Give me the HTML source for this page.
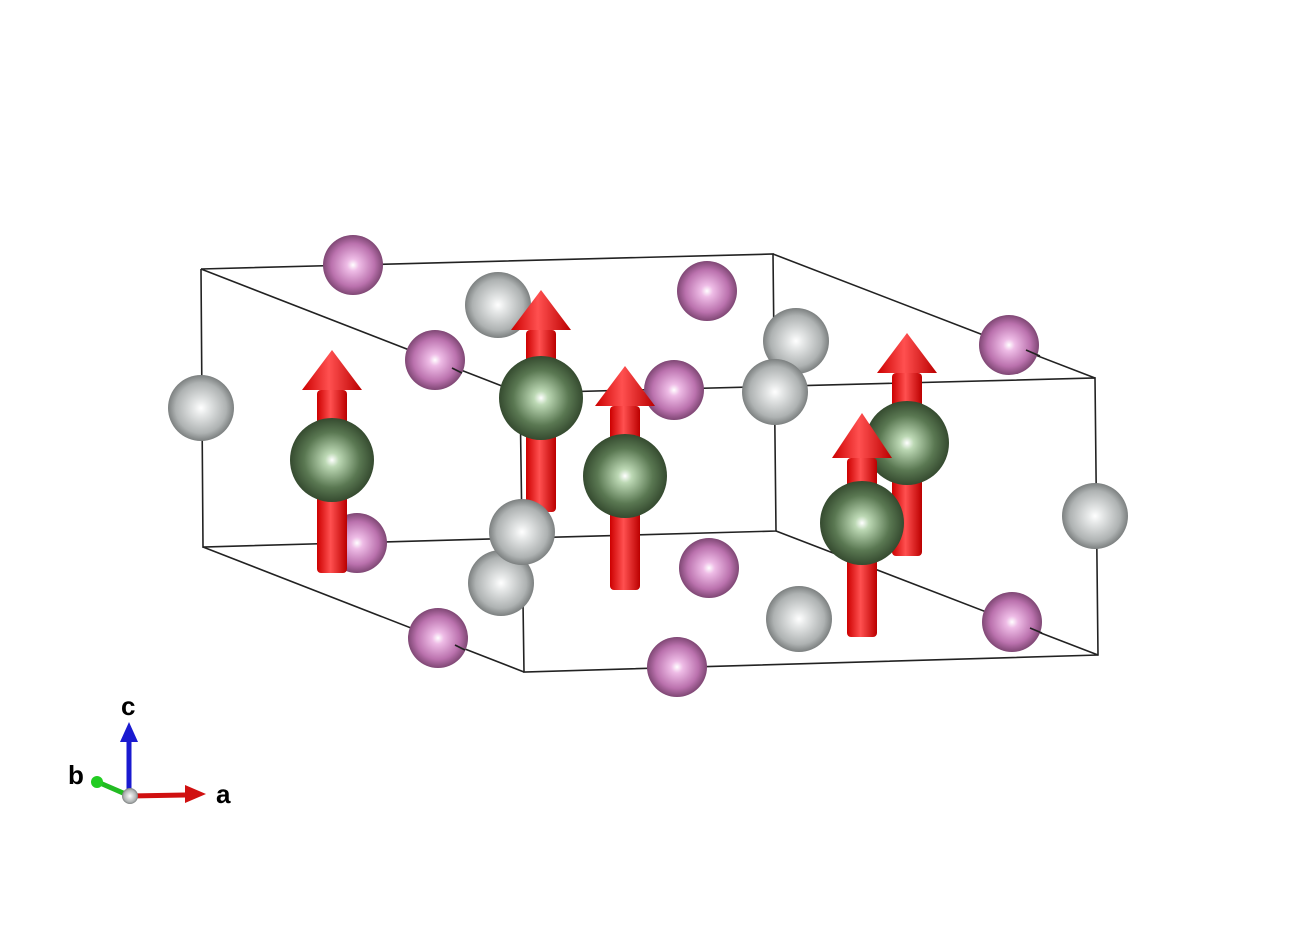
<!DOCTYPE html>
<html><head><meta charset="utf-8"><style>body{margin:0;background:#fff}svg{display:block}</style></head><body>
<svg width="1298" height="926" viewBox="0 0 1298 926" xmlns="http://www.w3.org/2000/svg">
<defs>
<radialGradient id="pk" cx="0.5" cy="0.5" r="0.55" fx="0.5" fy="0.5"><stop offset="0" stop-color="#fff"/><stop offset="0.18" stop-color="#eebce6"/><stop offset="0.65" stop-color="#bb72ae"/><stop offset="1" stop-color="#6a3860"/></radialGradient>
<radialGradient id="gy" cx="0.5" cy="0.5" r="0.55"><stop offset="0" stop-color="#fff"/><stop offset="0.2" stop-color="#e6e8e8"/><stop offset="0.7" stop-color="#aeb2b2"/><stop offset="1" stop-color="#666a6a"/></radialGradient>
<radialGradient id="gn" cx="0.5" cy="0.5" r="0.55"><stop offset="0" stop-color="#fff"/><stop offset="0.15" stop-color="#bcd8b4"/><stop offset="0.6" stop-color="#5a7852"/><stop offset="1" stop-color="#2a3d25"/></radialGradient>
<linearGradient id="rd" x1="0" x2="1"><stop offset="0" stop-color="#c00"/><stop offset="0.45" stop-color="#ff5050"/><stop offset="1" stop-color="#b00"/></linearGradient>
</defs>
<g stroke="#222" stroke-width="1.6" fill="none">
<polyline points="201,269 773,254 776,531 203,547 201,269"/>
<polyline points="520,393 1095,378 1098,655 524,672 520,393"/>
<line x1="201" y1="269" x2="520" y2="393"/><line x1="773" y1="254" x2="1095" y2="378"/>
<line x1="203" y1="547" x2="524" y2="672"/><line x1="776" y1="531" x2="1098" y2="655"/>
</g>
<g>
<circle cx="353" cy="265" r="30" fill="url(#pk)"/>
<circle cx="707" cy="291" r="30" fill="url(#pk)"/>
<circle cx="498" cy="305" r="33" fill="url(#gy)"/>
<circle cx="796" cy="341" r="33" fill="url(#gy)"/>
<circle cx="1009" cy="345" r="30" fill="url(#pk)"/>
<circle cx="775" cy="392" r="33" fill="url(#gy)"/>
<circle cx="357" cy="543" r="30" fill="url(#pk)"/>
<circle cx="201" cy="408" r="33" fill="url(#gy)"/>
</g>
<g fill="url(#rd)">
<rect x="526" y="330" width="30" height="182" rx="4"/><polygon points="541,290 571,330 511,330"/>
<rect x="892" y="373" width="30" height="183" rx="4"/><polygon points="907,333 937,373 877,373"/>
</g>
<circle cx="541" cy="398" r="42" fill="url(#gn)"/>
<circle cx="907" cy="443" r="42" fill="url(#gn)"/>
<circle cx="435" cy="360" r="30" fill="url(#pk)"/>
<circle cx="674" cy="390" r="30" fill="url(#pk)"/>
<g fill="url(#rd)">
<rect x="317" y="390" width="30" height="183" rx="4"/><polygon points="332,350 362,390 302,390"/>
<rect x="610" y="406" width="30" height="184" rx="4"/><polygon points="625,366 655,406 595,406"/>
<rect x="847" y="458" width="30" height="179" rx="4"/><polygon points="862,413 892,458 832,458"/>
</g>
<circle cx="332" cy="460" r="42" fill="url(#gn)"/>
<circle cx="625" cy="476" r="42" fill="url(#gn)"/>
<circle cx="862" cy="523" r="42" fill="url(#gn)"/>
<circle cx="709" cy="568" r="30" fill="url(#pk)"/>
<circle cx="501" cy="583" r="33" fill="url(#gy)"/>
<circle cx="522" cy="532" r="33" fill="url(#gy)"/>
<circle cx="799" cy="619" r="33" fill="url(#gy)"/>
<circle cx="1095" cy="516" r="33" fill="url(#gy)"/>
<circle cx="438" cy="638" r="30" fill="url(#pk)"/>
<circle cx="677" cy="667" r="30" fill="url(#pk)"/>
<circle cx="1012" cy="622" r="30" fill="url(#pk)"/>
<g stroke="#222" stroke-width="1.6"><line x1="1026" y1="350" x2="1040" y2="356"/><line x1="1030" y1="628" x2="1042" y2="633"/><line x1="452" y1="368" x2="462" y2="373"/><line x1="455" y1="645" x2="465" y2="650"/></g>
<line x1="130" y1="796" x2="100" y2="783" stroke="#22bb22" stroke-width="5"/>
<circle cx="97" cy="782" r="6" fill="#2c2"/>
<line x1="129" y1="796" x2="129" y2="740" stroke="#1a1ad0" stroke-width="5"/>
<polygon points="129,722 138,742 120,742" fill="#1a1ad0"/>
<line x1="130" y1="796" x2="185" y2="795" stroke="#d01010" stroke-width="5"/>
<polygon points="206,794 185,785 185,803" fill="#d01010"/>
<circle cx="130" cy="796" r="8" fill="url(#gy)"/>
<g font-family="Liberation Sans, sans-serif" font-weight="bold" font-size="26" fill="#000">
<text x="121" y="715">c</text><text x="68" y="784">b</text><text x="216" y="803">a</text>
</g>
</svg>
</body></html>
